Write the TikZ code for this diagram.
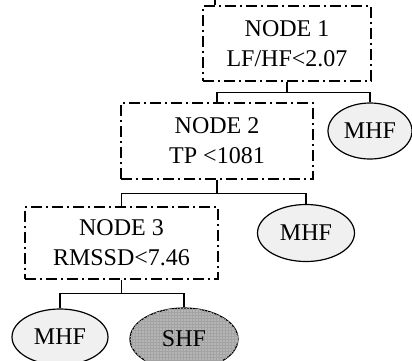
\documentclass[tikz,border=0pt]{standalone}
\usepackage{fontspec}
\setmainfont{Liberation Serif}
\usepackage{tikz}
\usetikzlibrary{positioning,shapes.geometric,patterns}

\begin{document}
\begin{tikzpicture}[x=1pt, y=-1pt,
  test/.style={draw, line width=1.2pt, dash pattern=on 11pt off 4pt on 2pt off 4pt,
               align=center, font=\fontsize{24}{30}\selectfont, inner sep=0pt},
  leaf/.style={draw, ellipse, line width=1.2pt, fill=gray!12, inner sep=0pt,
               font=\fontsize{24}{30}\selectfont},
  dark/.style={leaf, fill=gray!58, postaction={pattern=grid, pattern color=gray!72}},
  link/.style={line width=1.2pt}]
  \useasboundingbox (0,0) rectangle (412,360);
  \node[test, minimum width=168pt, minimum height=75pt] (n1) at (287,43.5) {NODE 1\\LF/HF<2.07};
  \node[test, minimum width=192pt, minimum height=76pt] (n2) at (217,141) {NODE 2\\TP <1081};
  \node[test, minimum width=193pt, minimum height=72pt] (n3) at (121.5,243) {NODE 3\\RMSSD<7.46};
  \node[leaf, minimum width=84pt, minimum height=56pt] (e1) at (370,131) {MHF};
  \node[leaf, minimum width=97pt, minimum height=57pt] (e2) at (306,233) {MHF};
  \node[leaf, minimum width=96pt, minimum height=56pt] (e3) at (60,337) {MHF};
  \node[dark, minimum width=108pt, minimum height=62pt] (e4) at (184,339) {SHF};
  \coordinate (up) at (215,0);
  \draw[link] (up) -- (up |- n1.north);
  \draw[link] (n1.south) -- ++(0,11) -| (n2.north);
  \draw[link] (n1.south) -- ++(0,11) -| (e1.north);
  \draw[link] (n2.south) -- ++(0,14) -| (n3.north);
  \draw[link] (n2.south) -- ++(0,14) -| (e2.north);
  \draw[link] (n3.south) -- ++(0,14) -| (e3.north);
  \draw[link] (n3.south) -- ++(0,14) -| (e4.north);
\end{tikzpicture}
\end{document}
